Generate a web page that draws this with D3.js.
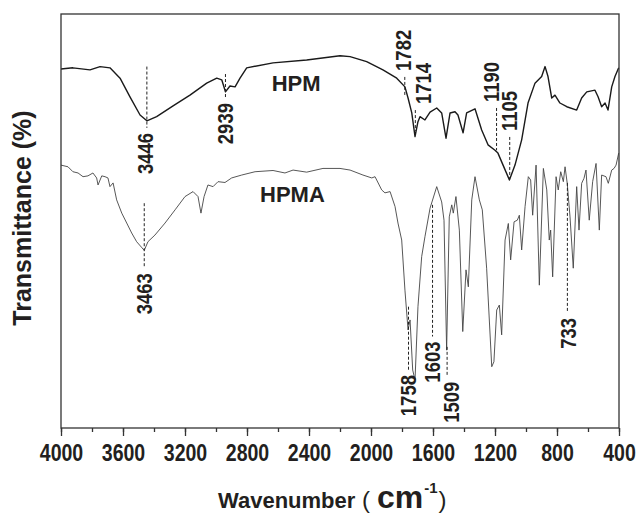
<!DOCTYPE html>
<html>
<head>
<meta charset="utf-8">
<script src="https://cdn.jsdelivr.net/npm/d3@7"></script>
<style>
  body { margin: 0; background: #fff; }
  text { font-family: "Liberation Sans", Arial, sans-serif; fill: #231f20; }
</style>
</head>
<body>
<div id="chart"></div>
<script>
// wavenumber (cm-1) and transmittance (a.u.)
const hpmWave = [4000, 3923, 3813, 3748, 3684, 3619, 3555, 3490, 3446, 3383, 3277, 3168, 3060, 2995, 2963, 2939,
  2910, 2877, 2845, 2802, 2632, 2415, 2200, 2135, 2028, 1923, 1834, 1781, 1761, 1737, 1716, 1697, 1684, 1652,
  1619, 1576, 1544, 1516, 1490, 1458, 1439, 1406, 1383, 1329, 1286, 1245, 1200, 1181, 1148, 1107, 1071, 1028,
  987, 942, 899, 877, 858, 834, 813, 781, 737, 673, 641, 608, 555, 535, 512, 490, 471, 447, 426, 402];
const hpmTrans = [86.7, 87.0, 86.5, 87.3, 87.0, 84.5, 80.0, 75.6, 74.2, 75.2, 77.8, 80.4, 83.3, 84.5, 84.1, 81.2,
  82.6, 82.4, 84.5, 87.0, 88.2, 88.9, 89.9, 89.7, 88.5, 86.5, 84.5, 82.4, 79.7, 76.1, 70.4, 74.0, 75.2, 74.4,
  76.3, 77.3, 76.1, 70.0, 76.1, 76.4, 75.6, 71.3, 76.1, 77.1, 72.0, 68.4, 67.1, 66.4, 63.5, 59.9, 63.5, 69.6,
  78.5, 83.3, 84.9, 87.3, 84.9, 79.7, 80.4, 78.5, 77.6, 76.8, 79.7, 81.2, 81.6, 80.0, 77.6, 78.5, 76.8, 82.4, 84.9, 87.0];

const hpmaWave = [4000, 3955, 3923, 3890, 3858, 3826, 3794, 3770, 3761, 3737, 3716, 3697, 3684, 3664, 3641, 3608,
  3576, 3544, 3512, 3477, 3463, 3439, 3394, 3329, 3264, 3200, 3148, 3116, 3097, 3077, 3052, 3019, 2987, 2942,
  2899, 2834, 2748, 2632, 2555, 2503, 2415, 2310, 2200, 2135, 2052, 1995, 1974, 1931, 1910, 1877, 1845, 1826,
  1802, 1781, 1761, 1748, 1731, 1716, 1697, 1673, 1652, 1619, 1576, 1544, 1529, 1512, 1495, 1479, 1469, 1452,
  1430, 1408, 1387, 1372, 1350, 1329, 1301, 1282, 1254, 1221, 1207, 1189, 1172, 1157, 1135, 1114, 1099, 1077,
  1056, 1043, 1028, 1006, 985, 970, 957, 935, 914, 888, 866, 850, 841, 828, 806, 792, 776, 759, 748, 734, 716,
  695, 673, 658, 641, 626, 613, 592, 570, 548, 527, 512, 484, 469, 447, 432, 419, 402];
const hpmaTrans = [63.5, 63.1, 61.9, 61.6, 60.7, 60.9, 61.6, 60.4, 58.7, 60.9, 60.7, 60.4, 58.3, 59.2, 55.1, 51.9,
  49.5, 47.1, 45.0, 43.5, 42.9, 45.0, 46.6, 49.5, 52.7, 55.9, 57.1, 55.9, 51.9, 55.9, 58.7, 58.3, 59.5, 59.3,
  60.4, 61.1, 61.9, 62.2, 61.6, 62.3, 61.8, 62.7, 62.7, 62.3, 61.1, 60.4, 60.7, 57.5, 56.8, 57.1, 53.5, 49.5,
  45.4, 33.3, 23.7, 26.1, 14.0, 11.6, 29.3, 41.4, 46.2, 53.1, 58.3, 54.6, 50.2, 18.8, 51.0, 53.9, 51.9, 55.9,
  47.8, 23.3, 38.2, 34.1, 55.1, 60.7, 55.1, 52.7, 38.6, 14.8, 16.0, 28.5, 29.7, 22.5, 45.4, 49.4, 40.6, 49.8,
  50.2, 51.4, 43.0, 53.5, 60.7, 59.9, 51.4, 63.5, 34.5, 62.7, 57.5, 45.4, 47.8, 36.5, 60.7, 57.5, 61.9, 59.5,
  63.1, 59.1, 51.0, 38.6, 58.3, 47.8, 59.1, 60.3, 62.3, 50.2, 59.5, 63.9, 47.8, 61.1, 60.7, 59.1, 62.3, 62.7, 63.5, 66.4];

// marked peaks: wavenumber, dashed marker span [top, bottom] in transmittance, label above or below
const hpmPeaks = [3446, 2939, 1782, 1714, 1190, 1105];
const hpmSpans = [[87.3, 72.5], [85.5, 79.7], [84.8, 80.4], [76.8, 71.7], [77.3, 67.1], [70.3, 60.4]];
const hpmSide = ['below', 'below', 'above', 'above', 'above', 'above'];
const hpmaPeaks = [3463, 1758, 1603, 1509, 733];
const hpmaSpans = [[54.3, 38.6], [29.3, 14.0], [53.9, 22.1], [19.6, 12.4], [59.2, 27.8]];
const hpmaSide = ['below', 'below', 'below', 'below', 'below'];
const labelShift = { 3446: -1, 3463: 0, 1782: -1, 1714: 8, 1190: -5, 1509: 4, 733: 1 };

const xTicks = [4000, 3600, 3200, 2800, 2400, 2000, 1600, 1200, 800, 400];

const W = 641, H = 521;
const margin = { top: 14, right: 22, bottom: 93, left: 61 };
const width = W - margin.left - margin.right;
const height = H - margin.top - margin.bottom;

const svg = d3.select('#chart').append('svg').attr('width', W).attr('height', H);
const g = svg.append('g').attr('transform', 'translate(' + margin.left + ',' + margin.top + ')');

const x = d3.scaleLinear().domain([4000, 400]).range([0, width]);
const y = d3.scaleLinear().domain([0, 100]).range([height, 0]);

// traces
const line = d3.line().x(d => x(d[0])).y(d => y(d[1]));
g.append('path')
  .datum(d3.zip(hpmaWave, hpmaTrans))
  .attr('d', line)
  .attr('fill', 'none')
  .attr('stroke', '#444')
  .attr('stroke-width', 0.9)
  .attr('stroke-linejoin', 'round');
g.append('path')
  .datum(d3.zip(hpmWave, hpmTrans))
  .attr('d', line)
  .attr('fill', 'none')
  .attr('stroke', '#1a1a1a')
  .attr('stroke-width', 1.4)
  .attr('stroke-linejoin', 'round');

// peak markers
function drawPeaks(peaks, spans, side) {
  peaks.forEach((p, i) => {
    const px = x(p);
    const y0 = y(spans[i][0]), y1 = y(spans[i][1]);
    g.append('line')
      .attr('x1', px).attr('x2', px)
      .attr('y1', y0).attr('y2', y1)
      .attr('stroke', '#222')
      .attr('stroke-width', 1)
      .attr('stroke-dasharray', '3,2');
    const tx = px + (labelShift[p] || 0) + 7.5;
    const ty = side[i] === 'above' ? y0 - 6 : y1 + 5;
    g.append('text')
      .attr('transform', 'translate(' + tx + ',' + ty + ') rotate(-90) scale(0.86,1)')
      .attr('text-anchor', side[i] === 'above' ? 'start' : 'end')
      .style('font-size', '21.5px')
      .style('font-weight', 'bold')
      .text(p);
  });
}
drawPeaks(hpmPeaks, hpmSpans, hpmSide);
drawPeaks(hpmaPeaks, hpmaSpans, hpmaSide);

// series names
g.append('text')
  .attr('x', x(2641)).attr('y', y(81.5))
  .style('font-size', '22px').style('font-weight', 'bold')
  .text('HPM');
g.append('text')
  .attr('x', x(2716)).attr('y', y(54.7))
  .style('font-size', '22px').style('font-weight', 'bold')
  .text('HPMA');

// frame
g.append('rect')
  .attr('width', width).attr('height', height)
  .attr('fill', 'none')
  .attr('stroke', '#333')
  .attr('stroke-width', 1.3);

// x axis: minor ticks every 200, labelled every 400
const xAxis = g.append('g')
  .attr('class', 'x axis')
  .attr('transform', 'translate(0,' + height + ')');
xAxis.call(d3.axisBottom(x).tickValues(d3.range(4000, 399, -200)).tickSize(4).tickFormat(''))
  .call(a => a.select('.domain').remove())
  .call(a => a.selectAll('line').attr('stroke', '#333').attr('stroke-width', 1.3));
xAxis.append('g')
  .call(d3.axisBottom(x).tickValues(xTicks).tickSize(8).tickFormat(d3.format('d')))
  .call(a => a.select('.domain').remove())
  .call(a => a.selectAll('line').attr('stroke', '#333').attr('stroke-width', 1.3))
  .call(a => a.selectAll('text')
    .attr('y', 33).attr('dy', 0)
    .attr('fill', '#231f20')
    .attr('transform', 'scale(0.85,1)')
    .style('font-size', '23px')
    .style('font-weight', 'bold')
    .style('font-family', '"Liberation Sans", Arial, sans-serif'));

// axis titles
svg.append('text')
  .attr('transform', 'translate(31,218) rotate(-90)')
  .attr('text-anchor', 'middle')
  .style('font-size', '25px')
  .style('font-weight', 'bold')
  .text('Transmittance (%)');

const xt = svg.append('text').attr('x', 218).attr('y', 508);
xt.append('tspan').style('font-size', '22px').style('font-weight', 'bold').text('Wavenumber');
xt.append('tspan').attr('x', 362).style('font-size', '24px').text('(');
xt.append('tspan').attr('x', 377).style('font-size', '32px').style('font-weight', 'bold').text('cm');
xt.append('tspan').attr('dy', -15).attr('dx', 1).style('font-size', '15px').style('font-weight', 'bold').text('-1');
xt.append('tspan').attr('dy', 15).attr('dx', 1).style('font-size', '24px').text(')');
</script>
</body>
</html>
